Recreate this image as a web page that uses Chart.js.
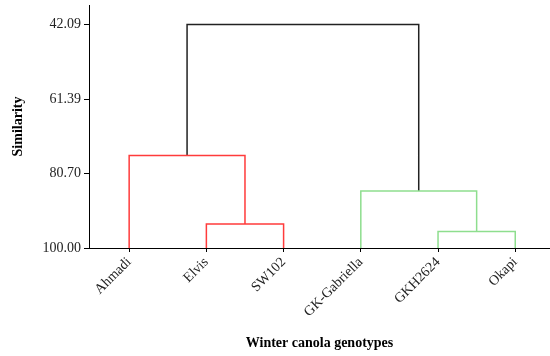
<!DOCTYPE html>
<html>
<head>
<meta charset="utf-8">
<script src="https://cdn.jsdelivr.net/npm/chart.js@4"></script>
<style>
  body { margin: 0; background: #fff; }
  #wrap { width: 550px; height: 356px; }
</style>
</head>
<body>
<div id="wrap"><canvas id="dendro" width="550" height="356"></canvas></div>
<script>
// Leaves of the dendrogram (left to right)
const genotypes = ["Ahmadi", "Elvis", "SW102", "GK-Gabriella", "GKH2624", "Okapi"];

// Merges: node ids 0-5 are leaves, merge k creates node 6 + k
const mergeLeft = [1, 4, 0, 3, 8];
const mergeRight = [2, 5, 6, 7, 9];
const mergeHeight = [93.8, 95.7, 76.0, 85.2, 42.09];

// Similarity tick labels
const yTicks = [42.09, 61.39, 80.70, 100.00];

// Link colours, one per merge
const linkColors = ["#ff3b3b", "#8ede8e", "#ff3b3b", "#8ede8e", "#222222"];

const FONT = "'Liberation Serif', 'Times New Roman', serif";

// node positions (x = category index, y = similarity)
const nodeX = genotypes.map((g, i) => i);
const nodeY = genotypes.map(() => 100);
mergeHeight.forEach((h, k) => {
    nodeX.push((nodeX[mergeLeft[k]] + nodeX[mergeRight[k]]) / 2);
    nodeY.push(h);
});

// each merge is drawn as a bracket of 4 points
const datasets = mergeHeight.map((h, k) => {
    const a = mergeLeft[k], b = mergeRight[k];
    return {
        data: [
            { x: nodeX[a], y: nodeY[a] },
            { x: nodeX[a], y: h },
            { x: nodeX[b], y: h },
            { x: nodeX[b], y: nodeY[b] }
        ],
        borderColor: linkColors[k],
        borderWidth: 1.5,
        pointRadius: 0,
        fill: false,
        tension: 0
    };
});

const ctx = document.getElementById("dendro").getContext("2d");
new Chart(ctx, {
    type: "line",
    data: { datasets: datasets },
    options: {
        responsive: false,
        animation: false,
        layout: { padding: { top: 5, right: 0, left: 0, bottom: 0 } },
        plugins: { legend: { display: false }, tooltip: { enabled: false } },
        scales: {
            x: {
                type: "linear",
                min: -0.52,
                max: 5.45,
                afterBuildTicks: scale => { scale.ticks = genotypes.map((g, i) => ({ value: i })); },
                afterFit: scale => {
                    scale.height = 108;
                    scale.paddingLeft = 0;
                    scale.paddingRight = 0;
                },
                ticks: {
                    autoSkip: false,
                    minRotation: 45,
                    maxRotation: 45,
                    padding: 2,
                    color: "#222",
                    font: { family: FONT, size: 14 },
                    callback: v => genotypes[v]
                },
                grid: { display: true, drawOnChartArea: false, drawTicks: true, tickLength: 4, color: "#000" },
                border: { display: true, color: "#000", width: 1 },
                title: {
                    display: true,
                    text: "Winter canola genotypes",
                    color: "#000",
                    font: { family: FONT, size: 14, weight: "bold" },
                    padding: { top: 0, bottom: 4 }
                }
            },
            y: {
                type: "linear",
                reverse: true,
                min: 37.03,
                max: 100,
                afterBuildTicks: scale => { scale.ticks = yTicks.map(v => ({ value: v })); },
                afterFit: scale => {
                    scale.width = 89;
                    scale.paddingTop = 0;
                    scale.paddingBottom = 0;
                },
                ticks: {
                    padding: 3,
                    color: "#222",
                    font: { family: FONT, size: 14 },
                    callback: v => Number(v).toFixed(2)
                },
                grid: { display: true, drawOnChartArea: false, drawTicks: true, tickLength: 5, color: "#000" },
                border: { display: true, color: "#000", width: 1 },
                title: {
                    display: true,
                    text: "Similarity",
                    color: "#000",
                    font: { family: FONT, size: 14, weight: "bold" },
                    padding: { top: 10, bottom: 0 }
                }
            }
        }
    }
});
</script>
</body>
</html>
